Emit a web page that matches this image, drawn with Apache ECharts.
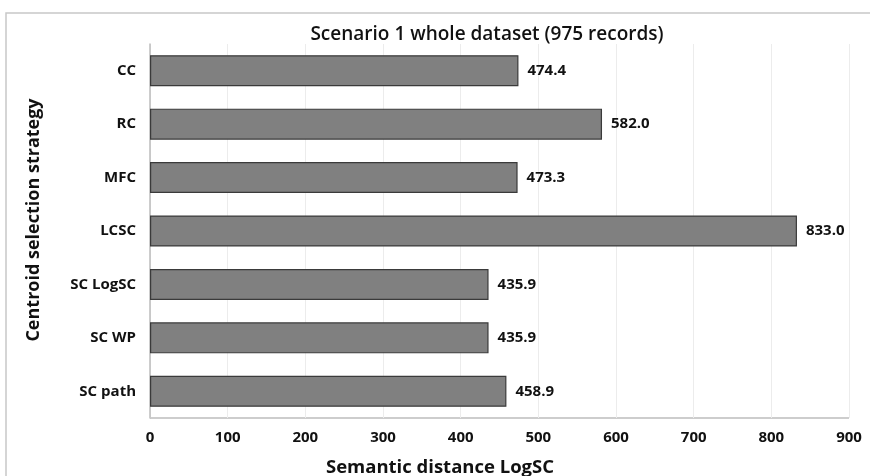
<!DOCTYPE html>
<html>
<head>
<meta charset="utf-8">
<script src="https://cdn.jsdelivr.net/npm/echarts@6/dist/echarts.min.js"></script>
<style>
  html, body { margin: 0; padding: 0; background: #fff; }
  #chart { width: 870px; height: 476px; }
</style>
</head>
<body>
<div id="chart"></div>
<script>
// Centroid selection strategies, top to bottom
const strategies = ['CC', 'RC', 'MFC', 'LCSC', 'SC LogSC', 'SC WP', 'SC path'];
// Semantic distance (LogSC) per strategy
const distances = [474.4, 582.0, 473.3, 833.0, 435.9, 435.9, 458.9];
const xTicks = [0, 100, 200, 300, 400, 500, 600, 700, 800, 900];

const FONT = '"Open Sans", "Noto Sans", sans-serif';

const chart = echarts.init(document.getElementById('chart'), null, { renderer: 'canvas' });
chart.setOption({
  animation: false,
  backgroundColor: '#fff',
  title: [
    {
      text: 'Scenario 1 whole dataset (975 records)',
      left: 482, top: 20, textAlign: 'center',
      textStyle: { fontFamily: FONT, fontSize: 19, fontWeight: 600, color: '#111' }
    },
    {
      text: 'Semantic distance LogSC',
      left: 435, top: 453, textAlign: 'center',
      textStyle: { fontFamily: FONT, fontSize: 18.5, fontWeight: 'bold', color: '#111' }
    }
  ],
  graphic: [
    {
      type: 'rect', silent: true, z: -1,
      shape: { x: 6, y: 13, width: 880, height: 480 },
      style: { fill: 'none', stroke: '#c8c8c8', lineWidth: 1.5 }
    },
    {
      type: 'text', silent: true,
      x: 34, y: 220, rotation: Math.PI / 2,
      style: {
        text: 'Centroid selection strategy',
        font: 'bold 18px ' + FONT, fill: '#111',
        textAlign: 'center', textVerticalAlign: 'middle'
      }
    },
    {
      // bottom edge of the plot area
      type: 'line', silent: true,
      shape: { x1: 150, y1: 418, x2: 849, y2: 418 },
      style: { stroke: '#bdbdbd', lineWidth: 1.5 }
    }
  ],
  grid: { left: 150, right: 21, top: 44, bottom: 58 },
  xAxis: {
    type: 'value', min: xTicks[0], max: xTicks[xTicks.length - 1], interval: 100,
    axisLine: { show: false },
    axisTick: { show: false },
    splitLine: { show: true, lineStyle: { color: '#ececec', width: 1 } },
    axisLabel: { fontFamily: FONT, fontSize: 15, fontWeight: 'bold', color: '#111', margin: 12 }
  },
  yAxis: {
    type: 'category', data: strategies, inverse: true,
    axisLine: { show: true, lineStyle: { color: '#bdbdbd', width: 1.5 } },
    axisTick: { show: false },
    axisLabel: { fontFamily: FONT, fontSize: 15, fontWeight: 'bold', color: '#111', margin: 14 }
  },
  series: [{
    type: 'bar',
    data: distances,
    barWidth: '58%',
    itemStyle: { color: '#808080', borderColor: '#3a3a3a', borderWidth: 1.2 },
    label: {
      show: true, position: 'right', distance: 9,
      formatter: p => p.value.toFixed(1),
      fontFamily: FONT, fontSize: 15, fontWeight: 'bold', color: '#111'
    }
  }]
});
</script>
</body>
</html>
